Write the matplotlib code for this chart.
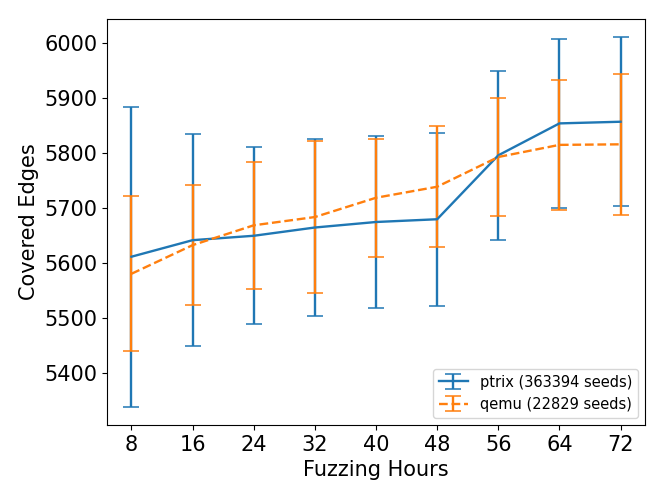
import matplotlib
matplotlib.use("Agg")
import matplotlib.pyplot as plt

hours = [8, 16, 24, 32, 40, 48, 56, 64, 72]
ptrix_mean = [5612, 5642, 5650, 5665, 5675, 5680, 5796, 5854, 5857]
ptrix_std = [272, 192, 161, 161, 156, 157, 154, 153, 153]
qemu_mean = [5581, 5633, 5669, 5684, 5719, 5739, 5793, 5815, 5816]
qemu_std = [141, 109, 115, 138, 107, 110, 108, 118, 128]
labels = ["ptrix (363394 seeds)", "qemu (22829 seeds)"]

fig = plt.figure(figsize=(6.64, 4.98), dpi=100)
ax = fig.add_axes([107 / 664, 1 - 425 / 498, (645 - 107) / 664, (425 - 19) / 498])

ax.errorbar(hours, ptrix_mean, yerr=ptrix_std, capsize=5.5, color="#1f77b4",
            linestyle="-", linewidth=1.7, elinewidth=1.7, capthick=1.1, label=labels[0])
ax.errorbar(hours, qemu_mean, yerr=qemu_std, capsize=5.5, color="#ff7f0e",
            linestyle="--", linewidth=1.7, elinewidth=1.7, capthick=1.1, label=labels[1])

ax.set_xticks(hours)
ax.tick_params(labelsize=15)
ax.set_xlabel("Fuzzing Hours", fontsize=15)
ax.set_ylabel("Covered Edges", fontsize=15)
ax.legend(loc="lower right", fontsize=10.5)

fig.savefig("out.png", dpi=100)
